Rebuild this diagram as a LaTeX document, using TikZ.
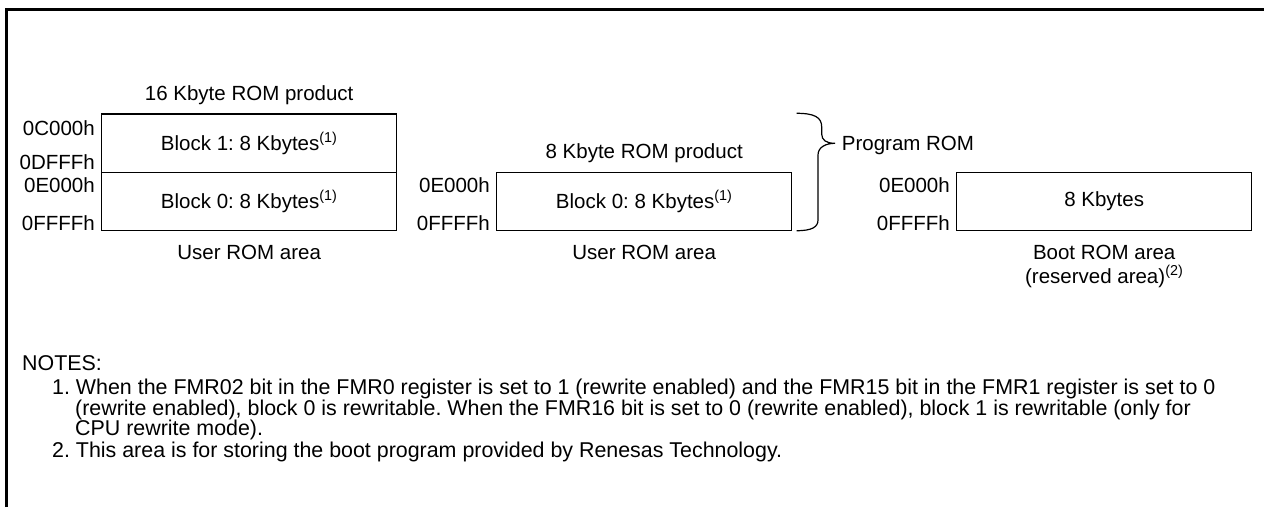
\documentclass[tikz,border=0pt]{standalone}
\usepackage{fontspec}
\setmainfont{Liberation Sans}
\usetikzlibrary{positioning}
\frenchspacing

\tikzset{
  romblk/.style={draw, line width=1.2pt, minimum width=295pt, minimum height=58.4pt, inner sep=0pt},
  addr/.style={anchor=east, inner sep=0pt},
  caption/.style={anchor=base, inner sep=0pt},
  note/.style={anchor=base west, inner sep=0pt, font=\fontsize{21.4}{25}\selectfont},
}

\begin{document}
\begin{tikzpicture}[x=1pt, y=-1pt, font=\fontsize{20.5}{24}\selectfont]
\useasboundingbox (0,0) rectangle (1264,507);

% Frame
\draw[line width=3pt] (6.3,507) -- (6.3,9.5) -- (1264,9.5);

% 16 Kbyte product
\node[romblk] (blkone) at (249.2,143.2) {Block 1: 8 Kbytes\textsuperscript{(1)}};
\node[romblk] (blkzero) at (249.2,201.5) {Block 0: 8 Kbytes\textsuperscript{(1)}};
\node[caption] (titlea) at (249.2,100) {16 Kbyte ROM product};
\node[caption] (areaa) at (249.2,259.3) {User ROM area};
\node[addr] (adra) at (95,128.3) {0C000h};
\node[addr] (adrb) at (95,162) {0DFFFh};
\node[addr] (adrc) at (95,185) {0E000h};
\node[addr] (adrd) at (95,223.5) {0FFFFh};

% 8 Kbyte product
\node[romblk] (blkeight) at (644.2,201.5) {Block 0: 8 Kbytes\textsuperscript{(1)}};
\node[caption] (titleb) at (644.2,158.3) {8 Kbyte ROM product};
\node[caption] (areab) at (644.2,259.3) {User ROM area};
\node[addr] (adre) at (490,185) {0E000h};
\node[addr] (adrf) at (490,223.5) {0FFFFh};

% Program ROM brace
\draw[line width=1.2pt] (796.7,113.3) .. controls (814,113.3) and (821.7,117) .. (821.7,127)
  -- (821.7,134) .. controls (821.7,140) and (826,143.3) .. (835,143.3)
  .. controls (826,143.3) and (818,147) .. (818,155)
  -- (818,220) .. controls (818,227) and (812,230.7) .. (796.7,230.7);
\node[anchor=base west, inner sep=0pt] (prog) at (841.7,150) {Program ROM};

% Boot ROM
\node[romblk] (blkboot) at (1104.2,201.5) {8 Kbytes};
\node[caption] (areac) at (1104.2,259.3) {Boot ROM area};
\node[caption] (resv) at (1104.2,283.5) {(reserved area)\textsuperscript{(2)}};
\node[addr] (adrg) at (950,185) {0E000h};
\node[addr] (adrh) at (950,223.5) {0FFFFh};

% Notes
\node[note] (nhead) at (22,370) {NOTES:};
\node[note] (nonea) at (52,394) {1. When the FMR02 bit in the FMR0 register is set to 1 (rewrite enabled) and the FMR15 bit in the FMR1 register is set to 0};
\node[note] (noneb) at (75,415) {(rewrite enabled), block 0 is rewritable. When the FMR16 bit is set to 0 (rewrite enabled), block 1 is rewritable (only for};
\node[note] (nonec) at (75,435) {CPU rewrite mode).};
\node[note] (ntwo) at (52,457) {2. This area is for storing the boot program provided by Renesas Technology.};

\end{tikzpicture}
\end{document}
